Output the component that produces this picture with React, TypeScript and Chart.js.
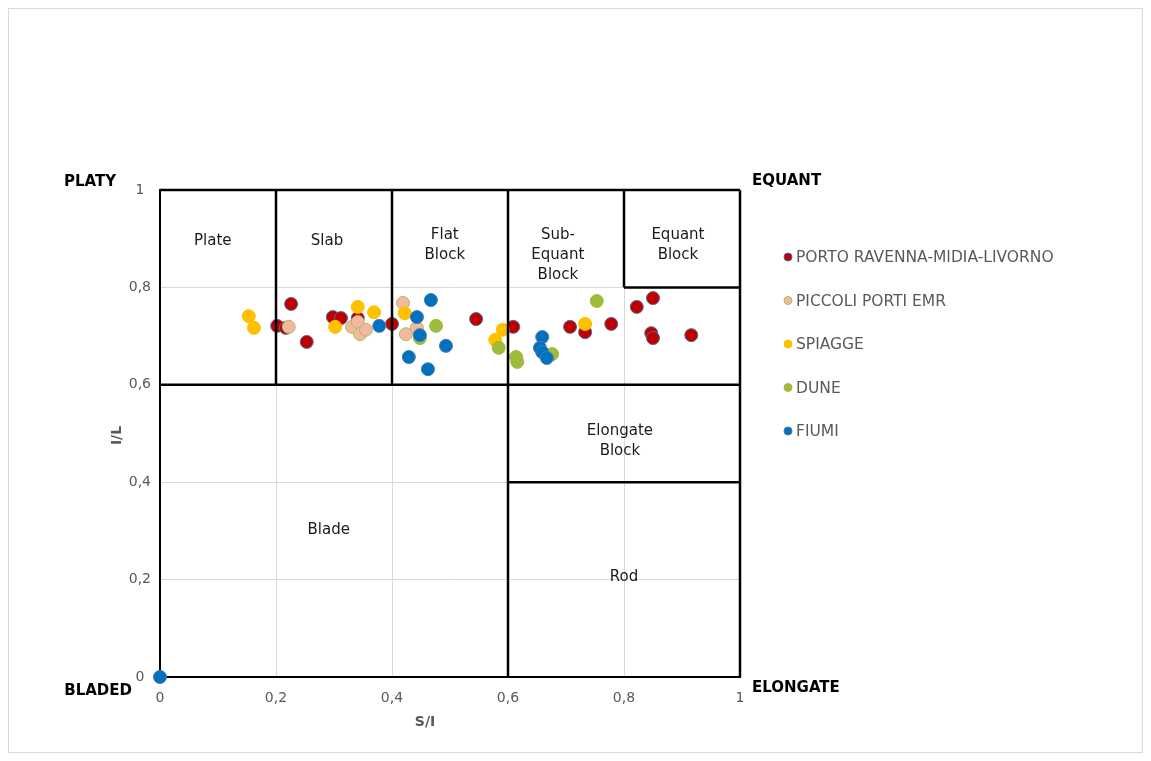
import React, { useEffect, useRef } from 'react';
import { Chart, registerables } from 'chart.js';

Chart.register(...registerables);

// ---- Data ----
const seriesNames = ['PORTO RAVENNA-MIDIA-LIVORNO', 'PICCOLI PORTI EMR', 'SPIAGGE', 'DUNE', 'FIUMI'];

const portoX = [0.202, 0.217, 0.226, 0.253, 0.298, 0.312, 0.341, 0.400, 0.545, 0.609, 0.707, 0.733, 0.778, 0.822, 0.850, 0.847, 0.850, 0.916];
const portoY = [0.721, 0.717, 0.766, 0.688, 0.739, 0.737, 0.737, 0.725, 0.735, 0.719, 0.719, 0.708, 0.725, 0.760, 0.778, 0.706, 0.696, 0.702];

const piccoliX = [0.222, 0.331, 0.341, 0.345, 0.355, 0.419, 0.424, 0.443];
const piccoliY = [0.719, 0.719, 0.729, 0.704, 0.713, 0.768, 0.704, 0.717];

const spiaggeX = [0.153, 0.162, 0.302, 0.341, 0.369, 0.422, 0.578, 0.591, 0.733];
const spiaggeY = [0.741, 0.717, 0.719, 0.760, 0.749, 0.747, 0.692, 0.713, 0.725];

const duneX = [0.448, 0.476, 0.584, 0.614, 0.616, 0.676, 0.753];
const duneY = [0.696, 0.721, 0.676, 0.657, 0.647, 0.663, 0.772];

const fiumiX = [0.378, 0.467, 0.443, 0.448, 0.493, 0.429, 0.462, 0.659, 0.655, 0.659, 0.667, 0];
const fiumiY = [0.721, 0.774, 0.739, 0.702, 0.680, 0.657, 0.632, 0.698, 0.676, 0.667, 0.655, 0];

const xTicks = [0, 0.2, 0.4, 0.6, 0.8, 1];
const yTicks = [0, 0.2, 0.4, 0.6, 0.8, 1];

// class boundaries [x1, y1, x2, y2]
const boundaries = [
  [0, 1, 1, 1],
  [1, 0, 1, 1],
  [0, 0.6, 1, 0.6],
  [0.2, 0.6, 0.2, 1],
  [0.4, 0.6, 0.4, 1],
  [0.6, 0, 0.6, 1],
  [0.8, 0.8, 0.8, 1],
  [0.8, 0.8, 1, 0.8],
  [0.6, 0.4, 1, 0.4],
];

const regionNames = ['Plate', 'Slab', 'Flat\nBlock', 'Sub-\nEquant\nBlock', 'Equant\nBlock', 'Elongate\nBlock', 'Blade', 'Rod'];
const regionLabelX = [0.091, 0.288, 0.491, 0.686, 0.893, 0.793, 0.291, 0.800];
const regionLabelY = [0.895, 0.895, 0.887, 0.867, 0.887, 0.485, 0.302, 0.205];

const fills = ['#c00000', '#f4b8a2', '#ffc000', '#9fbb3a', '#0070c0'];
const borders = ['#4a6f96', '#a9bf5a', '#ffc000', '#9fbb3a', '#4d7aa8'];

const FONT = '"DejaVu Sans", sans-serif';

const toPts = (xs: number[], ys: number[]) => xs.map((x, i) => ({ x, y: ys[i] }));

const fmt = (v: number) => (v === 0 ? '0' : v === 1 ? '1' : v.toFixed(1).replace('.', ','));

const decorPlugin = {
  id: 'decor',
  afterDraw(chart: any) {
    const { ctx, chartArea, scales } = chart;
    const xs = scales.x;
    const ys = scales.y;
    ctx.save();
    // region labels
    ctx.fillStyle = '#1a1a1a';
    ctx.font = `15px ${FONT}`;
    ctx.textAlign = 'center';
    ctx.textBaseline = 'middle';
    regionNames.forEach((name, i) => {
      const lines = name.split('\n');
      const cx = xs.getPixelForValue(regionLabelX[i]);
      const cy = ys.getPixelForValue(regionLabelY[i]);
      lines.forEach((t, j) => ctx.fillText(t, cx, cy + (j - (lines.length - 1) / 2) * 20));
    });
    // corner labels
    ctx.fillStyle = '#000';
    ctx.font = `bold 15px ${FONT}`;
    ctx.textAlign = 'right';
    ctx.fillText('PLATY', chartArea.left - 44, chartArea.top - 8);
    ctx.fillText('BLADED', chartArea.left - 28, chartArea.bottom + 14);
    ctx.textAlign = 'left';
    ctx.fillText('EQUANT', chartArea.right + 12, chartArea.top - 9);
    ctx.fillText('ELONGATE', chartArea.right + 12, chartArea.bottom + 11);
    // axis titles
    ctx.fillStyle = '#595959';
    ctx.font = `bold 14px ${FONT}`;
    ctx.textAlign = 'center';
    ctx.fillText('S/I', chartArea.left + 265, chartArea.bottom + 45);
    ctx.save();
    ctx.translate(chartArea.left - 43, (chartArea.top + chartArea.bottom) / 2 + 2);
    ctx.rotate(-Math.PI / 2);
    ctx.fillText('I/L', 0, 0);
    ctx.restore();
    // legend
    ctx.font = `15.5px ${FONT}`;
    ctx.textAlign = 'left';
    seriesNames.forEach((name, i) => {
      const lx = chartArea.right + 48;
      const ly = chartArea.top + 67 + i * 43.5;
      ctx.beginPath();
      ctx.arc(lx, ly, 4, 0, Math.PI * 2);
      ctx.fillStyle = fills[i];
      ctx.fill();
      ctx.lineWidth = 1;
      ctx.strokeStyle = borders[i];
      ctx.stroke();
      ctx.fillStyle = '#595959';
      ctx.fillText(name, lx + 8, ly + 1);
    });
    ctx.restore();
  },
};

export default function App() {
  const ref = useRef<HTMLCanvasElement | null>(null);

  useEffect(() => {
    if (!ref.current) return;
    const seriesData = [
      toPts(portoX, portoY),
      toPts(piccoliX, piccoliY),
      toPts(spiaggeX, spiaggeY),
      toPts(duneX, duneY),
      toPts(fiumiX, fiumiY),
    ];
    const scatterSets = seriesNames.map((name, i) => ({
      label: name,
      data: seriesData[i],
      backgroundColor: fills[i],
      borderColor: borders[i],
      borderWidth: 1,
      pointRadius: 6.5,
      showLine: false,
      clip: false,
      order: 10 - i,
    }));
    const lineSets = boundaries.map((b, i) => ({
      label: 'line' + i,
      data: [{ x: b[0], y: b[1] }, { x: b[2], y: b[3] }],
      borderColor: '#000',
      borderWidth: 2.5,
      pointRadius: 0,
      showLine: true,
      clip: false,
      order: 0,
    }));

    const chart = new Chart(ref.current, {
      type: 'scatter',
      data: { datasets: [...scatterSets, ...lineSets] as any },
      options: {
        animation: false,
        responsive: true,
        maintainAspectRatio: false,
        layout: { padding: { left: 111, right: 402, top: 181, bottom: 35 } },
        plugins: { legend: { display: false }, tooltip: { enabled: false }, title: { display: false } },
        scales: {
          x: {
            type: 'linear',
            min: 0,
            max: 1,
            afterBuildTicks: (s: any) => { s.ticks = xTicks.map((v) => ({ value: v })); },
            afterFit: (s: any) => { s.height = 40; },
            ticks: { callback: (v: any) => fmt(Number(v)), color: '#595959', font: { family: FONT, size: 14 }, padding: 13, maxRotation: 0 },
            grid: { color: '#d9d9d9', lineWidth: 1, drawTicks: false },
            border: { color: '#000', width: 2 },
          },
          y: {
            type: 'linear',
            min: 0,
            max: 1,
            afterBuildTicks: (s: any) => { s.ticks = yTicks.map((v) => ({ value: v })); },
            afterFit: (s: any) => { s.width = 40; },
            ticks: { callback: (v: any) => fmt(Number(v)), color: '#595959', font: { family: FONT, size: 14 }, padding: 9, crossAlign: 'center' },
            grid: { color: '#d9d9d9', lineWidth: 1, drawTicks: false },
            border: { color: '#000', width: 2 },
          },
        },
      },
      plugins: [decorPlugin],
    });
    return () => chart.destroy();
  }, []);

  return (
    <div style={{ width: 1135, height: 745, border: '1px solid #d9d9d9', boxSizing: 'border-box', position: 'relative' }}>
      <canvas ref={ref} />
    </div>
  );
}
